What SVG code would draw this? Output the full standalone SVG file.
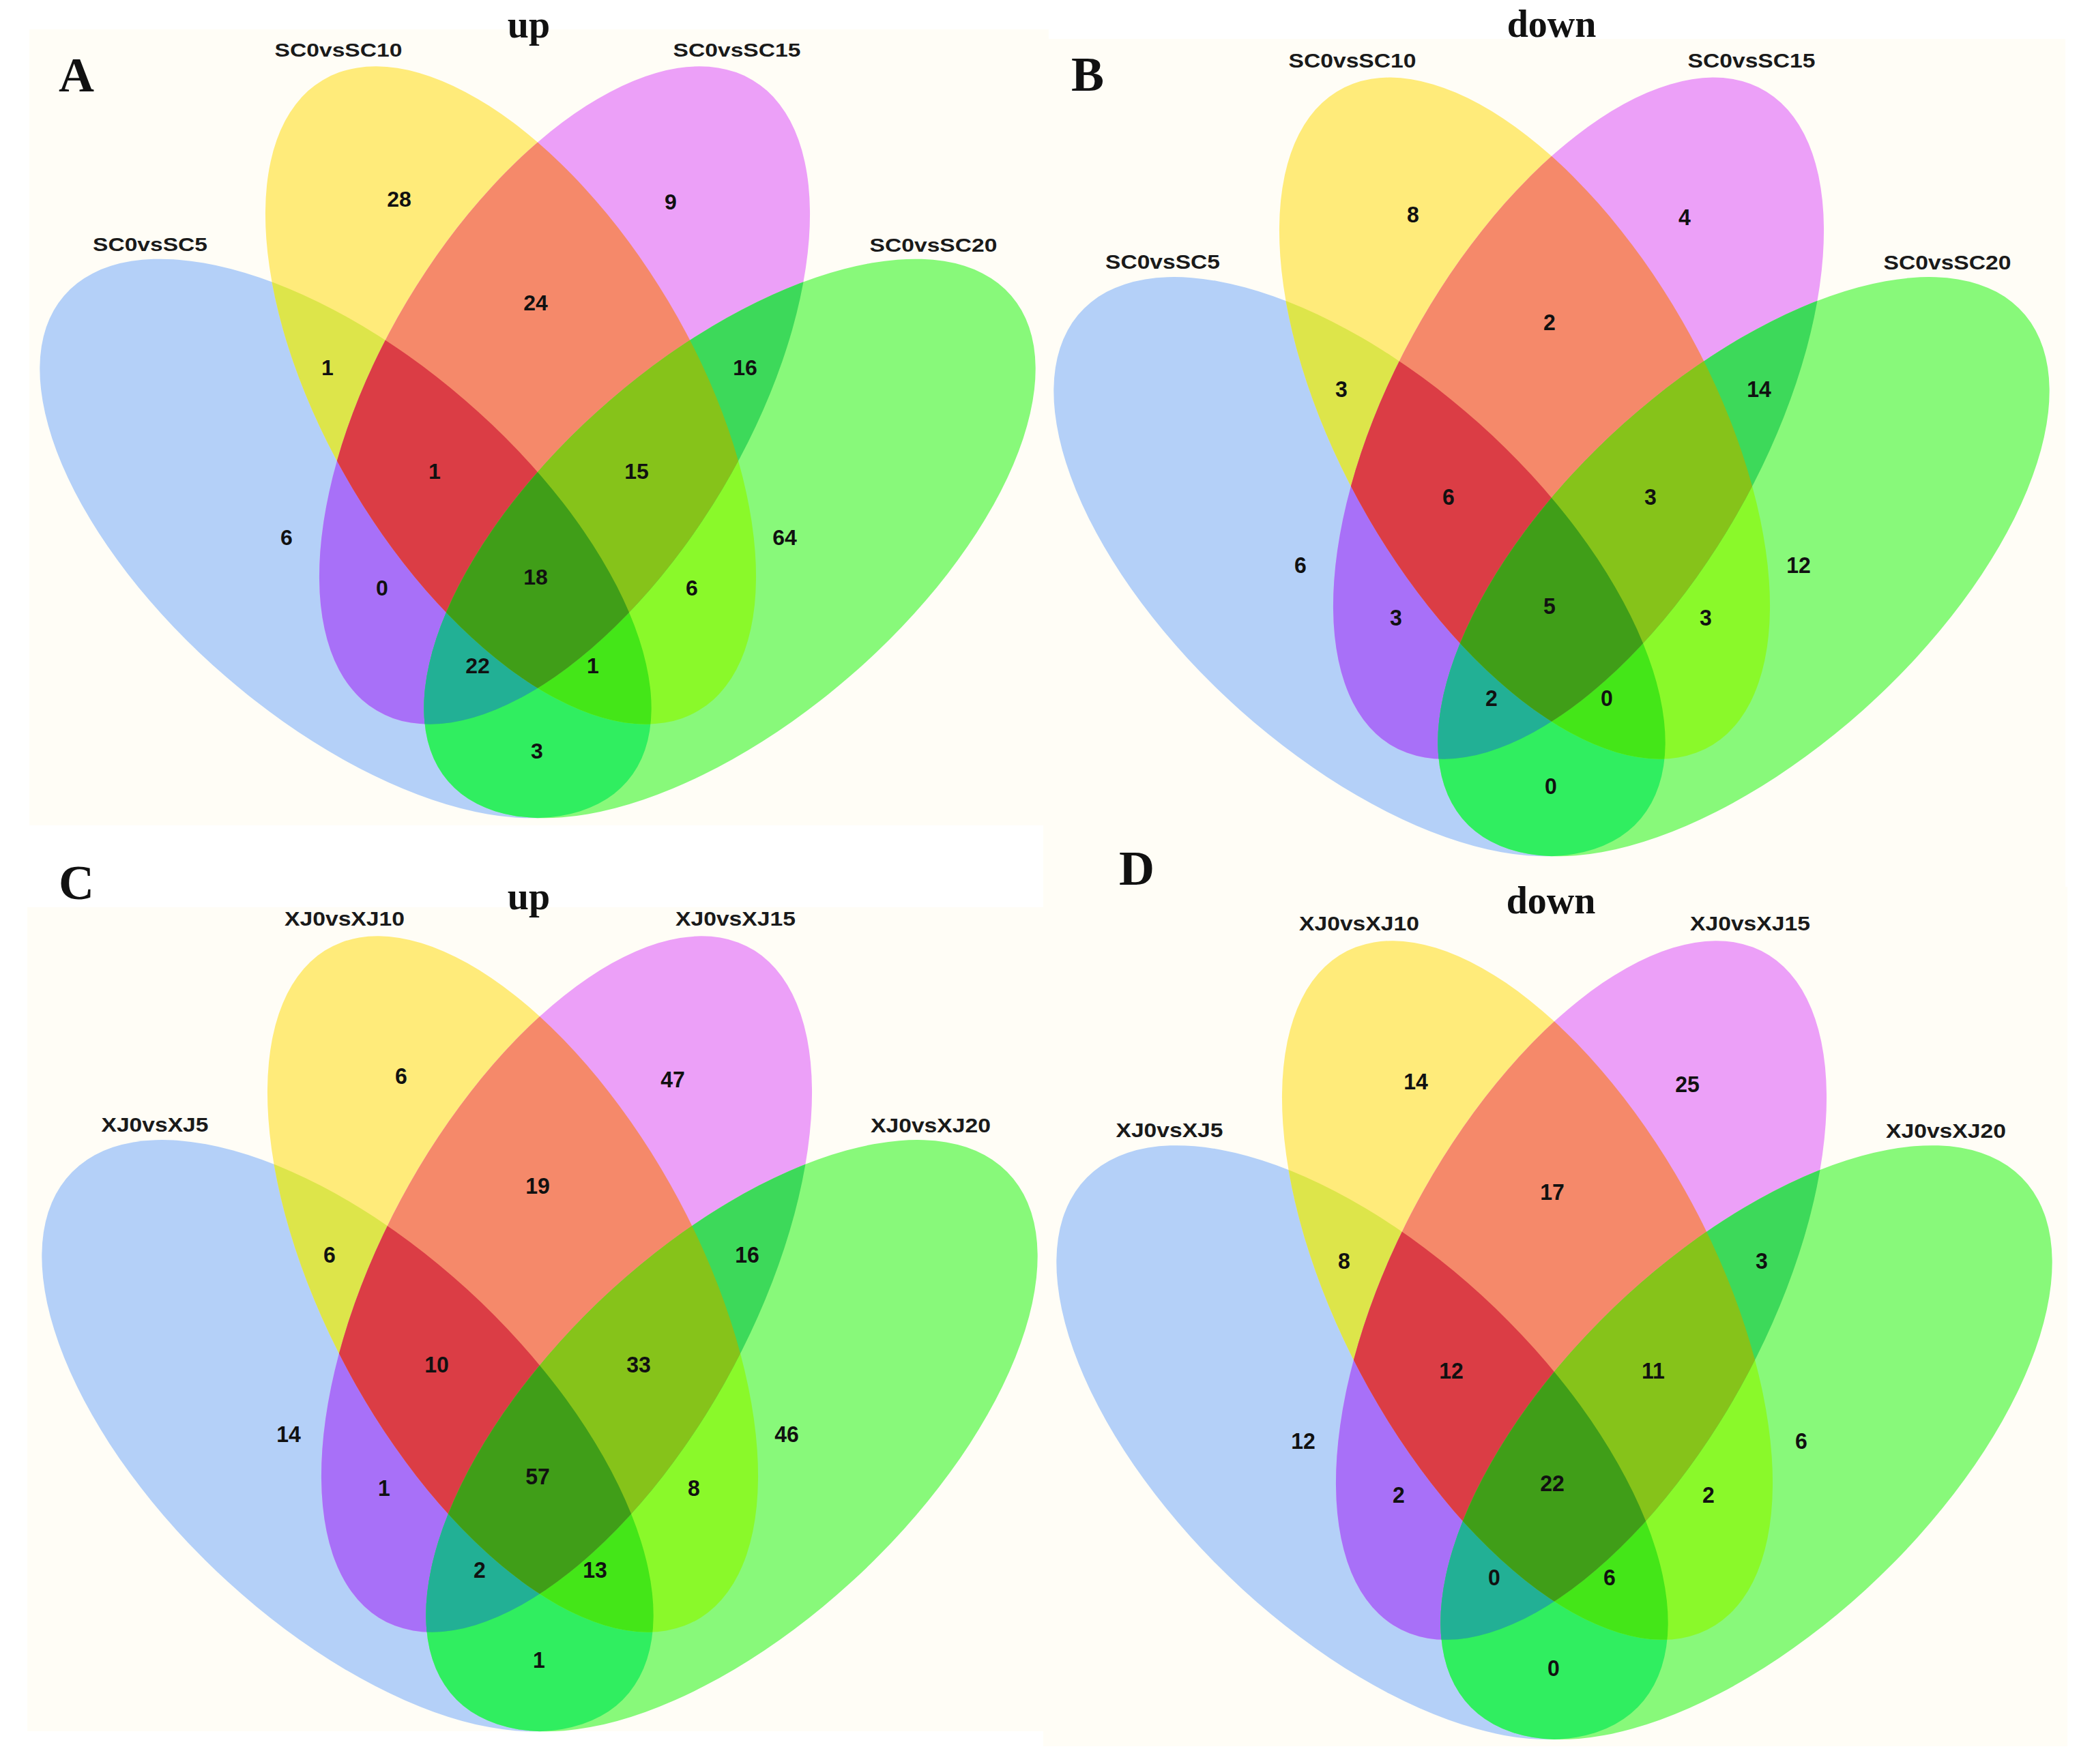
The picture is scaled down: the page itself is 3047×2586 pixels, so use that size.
<svg xmlns="http://www.w3.org/2000/svg" xmlns:xlink="http://www.w3.org/1999/xlink" width="3047" height="2586" viewBox="0 0 3047 2586">
<style>
.n{font-family:"Liberation Sans",Arial,sans-serif;font-weight:bold;font-size:32px;text-anchor:middle;fill:#111}
.l{font-family:"Liberation Sans",Arial,sans-serif;font-weight:bold;font-size:28px;text-anchor:middle;fill:#1a1a1a}
.t{font-family:"Liberation Serif","Times New Roman",serif;font-weight:bold;font-size:56px;text-anchor:middle;fill:#111}
.p{font-family:"Liberation Serif","Times New Roman",serif;font-weight:bold;font-size:72px;fill:#111}
.bg{fill:#FFFDF6}
</style>
<defs>
<ellipse id="eB" cx="506.5" cy="789.5" rx="545" ry="268" transform="rotate(40.8 506.5 789.5)"/>
<ellipse id="eY" cx="748.5" cy="579.5" rx="538" ry="269" transform="rotate(59.2 748.5 579.5)"/>
<ellipse id="eP" cx="827.5" cy="579.5" rx="538" ry="269" transform="rotate(-59.2 827.5 579.5)"/>
<ellipse id="eG" cx="1069.5" cy="789.5" rx="545" ry="268" transform="rotate(-40.8 1069.5 789.5)"/>
<clipPath id="cB"><use href="#eB"/></clipPath>
<clipPath id="cY"><use href="#eY"/></clipPath>
<clipPath id="cP"><use href="#eP"/></clipPath>
<g id="venn">
<use href="#eB" fill="#B4D0F8"/>
<use href="#eY" fill="#FFEB7A"/>
<use href="#eP" fill="#ECA0F8"/>
<use href="#eG" fill="#88F97A"/>
<g clip-path="url(#cB)"><use href="#eY" fill="#DDE54A"/></g>
<g clip-path="url(#cB)"><use href="#eP" fill="#A870F8"/></g>
<g clip-path="url(#cB)"><use href="#eG" fill="#30EE60"/></g>
<g clip-path="url(#cY)"><use href="#eP" fill="#F5896A"/></g>
<g clip-path="url(#cY)"><use href="#eG" fill="#8AF92A"/></g>
<g clip-path="url(#cP)"><use href="#eG" fill="#3DD95A"/></g>
<g clip-path="url(#cB)"><g clip-path="url(#cY)"><use href="#eP" fill="#DB3D45"/></g></g>
<g clip-path="url(#cB)"><g clip-path="url(#cY)"><use href="#eG" fill="#44E618"/></g></g>
<g clip-path="url(#cB)"><g clip-path="url(#cP)"><use href="#eG" fill="#22B095"/></g></g>
<g clip-path="url(#cY)"><g clip-path="url(#cP)"><use href="#eG" fill="#86C31A"/></g></g>
<g clip-path="url(#cB)"><g clip-path="url(#cY)"><g clip-path="url(#cP)"><use href="#eG" fill="#409E18"/></g></g></g>
</g>
</defs>
<rect width="3047" height="2586" fill="#FFFFFF"/>
<rect class="bg" x="43" y="43" width="1494" height="1167"/>
<rect class="bg" x="1529" y="57" width="1498" height="1250"/>
<rect class="bg" x="40" y="1330" width="1500" height="1208"/>
<rect class="bg" x="1529" y="1300" width="1501" height="1260"/>

<g id="panelA">
<use href="#venn"/>
<text class="l" x="220" y="368" textLength="168" lengthAdjust="spacingAndGlyphs">SC0vsSC5</text>
<text class="l" x="496" y="83" textLength="187" lengthAdjust="spacingAndGlyphs">SC0vsSC10</text>
<text class="l" x="1080" y="83" textLength="187" lengthAdjust="spacingAndGlyphs">SC0vsSC15</text>
<text class="l" x="1368" y="369" textLength="187" lengthAdjust="spacingAndGlyphs">SC0vsSC20</text>
<text class="n" x="585" y="302.5">28</text>
<text class="n" x="983" y="306.5">9</text>
<text class="n" x="785" y="454.5">24</text>
<text class="n" x="480" y="549.5">1</text>
<text class="n" x="1092" y="549.5">16</text>
<text class="n" x="637" y="701.5">1</text>
<text class="n" x="933" y="701.5">15</text>
<text class="n" x="420" y="798.5">6</text>
<text class="n" x="1150" y="798.5">64</text>
<text class="n" x="560" y="872.5">0</text>
<text class="n" x="785" y="856.5">18</text>
<text class="n" x="1014" y="872.5">6</text>
<text class="n" x="700" y="986.5">22</text>
<text class="n" x="869" y="986.5">1</text>
<text class="n" x="787" y="1111.5">3</text>
</g>

<g id="panelB" transform="translate(1486 12.8) scale(1 1.036)">
<use href="#venn"/>
<text class="l" x="218" y="368" textLength="168" lengthAdjust="spacingAndGlyphs">SC0vsSC5</text>
<text class="l" x="496" y="83" textLength="187" lengthAdjust="spacingAndGlyphs">SC0vsSC10</text>
<text class="l" x="1081" y="83" textLength="187" lengthAdjust="spacingAndGlyphs">SC0vsSC15</text>
<text class="l" x="1368" y="369" textLength="187" lengthAdjust="spacingAndGlyphs">SC0vsSC20</text>
<text class="n" x="585" y="302.5">8</text>
<text class="n" x="983" y="306.5">4</text>
<text class="n" x="785" y="454.5">2</text>
<text class="n" x="480" y="549.5">3</text>
<text class="n" x="1092" y="549.5">14</text>
<text class="n" x="637" y="701.5">6</text>
<text class="n" x="933" y="701.5">3</text>
<text class="n" x="420" y="798.5">6</text>
<text class="n" x="1150" y="798.5">12</text>
<text class="n" x="560" y="872.5">3</text>
<text class="n" x="785" y="856.5">5</text>
<text class="n" x="1014" y="872.5">3</text>
<text class="n" x="700" y="986.5">2</text>
<text class="n" x="869" y="986.5">0</text>
<text class="n" x="787" y="1111.5">0</text>
</g>

<g id="panelC" transform="translate(3 1269.4) scale(1 1.058)">
<use href="#venn"/>
<text class="l" x="224" y="368" textLength="157" lengthAdjust="spacingAndGlyphs">XJ0vsXJ5</text>
<text class="l" x="502" y="83" textLength="176" lengthAdjust="spacingAndGlyphs">XJ0vsXJ10</text>
<text class="l" x="1075" y="83" textLength="176" lengthAdjust="spacingAndGlyphs">XJ0vsXJ15</text>
<text class="l" x="1361" y="369" textLength="176" lengthAdjust="spacingAndGlyphs">XJ0vsXJ20</text>
<text class="n" x="585" y="302.5">6</text>
<text class="n" x="983" y="306.5">47</text>
<text class="n" x="785" y="454.5">19</text>
<text class="n" x="480" y="549.5">6</text>
<text class="n" x="1092" y="549.5">16</text>
<text class="n" x="637" y="701.5">10</text>
<text class="n" x="933" y="701.5">33</text>
<text class="n" x="420" y="798.5">14</text>
<text class="n" x="1150" y="798.5">46</text>
<text class="n" x="560" y="872.5">1</text>
<text class="n" x="785" y="856.5">57</text>
<text class="n" x="1014" y="872.5">8</text>
<text class="n" x="700" y="986.5">2</text>
<text class="n" x="869" y="986.5">13</text>
<text class="n" x="787" y="1111.5">1</text>
</g>

<g id="panelD" transform="translate(1490 1275.8) scale(1 1.0625)">
<use href="#venn"/>
<text class="l" x="224" y="368" textLength="157" lengthAdjust="spacingAndGlyphs">XJ0vsXJ5</text>
<text class="l" x="502" y="83" textLength="176" lengthAdjust="spacingAndGlyphs">XJ0vsXJ10</text>
<text class="l" x="1075" y="83" textLength="176" lengthAdjust="spacingAndGlyphs">XJ0vsXJ15</text>
<text class="l" x="1362" y="369" textLength="176" lengthAdjust="spacingAndGlyphs">XJ0vsXJ20</text>
<text class="n" x="585" y="302.5">14</text>
<text class="n" x="983" y="306.5">25</text>
<text class="n" x="785" y="454.5">17</text>
<text class="n" x="480" y="549.5">8</text>
<text class="n" x="1092" y="549.5">3</text>
<text class="n" x="637" y="701.5">12</text>
<text class="n" x="933" y="701.5">11</text>
<text class="n" x="420" y="798.5">12</text>
<text class="n" x="1150" y="798.5">6</text>
<text class="n" x="560" y="872.5">2</text>
<text class="n" x="785" y="856.5">22</text>
<text class="n" x="1014" y="872.5">2</text>
<text class="n" x="700" y="986.5">0</text>
<text class="n" x="869" y="986.5">6</text>
<text class="n" x="787" y="1111.5">0</text>
</g>

<g id="titles">
<text class="p" x="86" y="134">A</text>
<text class="p" x="1570" y="133">B</text>
<text class="p" x="86" y="1318">C</text>
<text class="p" x="1640" y="1297">D</text>
<text class="t" x="775" y="55">up</text>
<text class="t" x="2274" y="54">down</text>
<text class="t" x="775" y="1333">up</text>
<text class="t" x="2273" y="1339">down</text>
</g>
</svg>
